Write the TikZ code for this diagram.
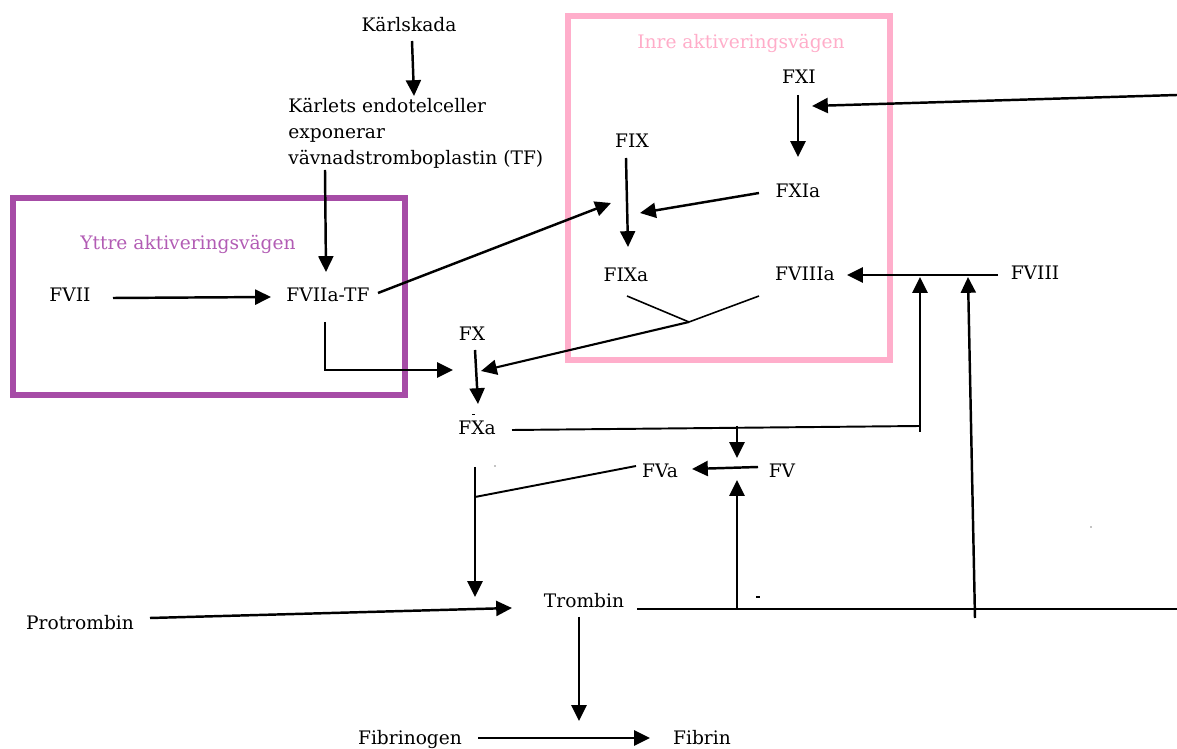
\documentclass[tikz,border=0pt]{standalone}
\usepackage{fontspec}
\setmainfont{DejaVu Serif}
\usetikzlibrary{arrows.meta}
\definecolor{boxpurple}{HTML}{A64CA6}
\definecolor{txtpurple}{HTML}{B25CB4}
\definecolor{boxpink}{HTML}{FFAECB}
\definecolor{txtpink}{HTML}{FFADC9}
\tikzset{
  lbl/.style={inner sep=0pt, anchor=base, font=\fontsize{10.6}{14.8}\selectfont},
  arr/.style={line width=1.4pt, -{Triangle[length=9pt,width=8.5pt]}},
  thin/.style={line width=0.9pt},
  mid/.style={line width=1.1pt},
  pathbox/.style={line width=3.4pt}
}
\begin{document}
\begin{tikzpicture}[x=0.02cm,y=-0.02cm]
\useasboundingbox (0,0) rectangle (1177,749);
% boxes
\draw[pathbox, draw=boxpurple] (13,198) rectangle (405,395);
\draw[pathbox, draw=boxpink] (568,16) rectangle (890,360);
% labels
\node[lbl, text=txtpurple] (yttre) at (188,250) {Yttre aktiveringsvägen};
\node[lbl, text=txtpink] (inre) at (741,49) {Inre aktiveringsvägen};
\node[lbl] (karlskada) at (409,32) {Kärlskada};
\node[lbl, anchor=base west, align=left] (karlets) at (288,165) {Kärlets endotelceller\\exponerar\\vävnadstromboplastin (TF)};
\node[lbl] (fvii) at (70,302) {FVII};
\node[lbl] (fviiatf) at (328,302) {FVIIa-TF};
\node[lbl] (fx) at (472,341) {FX};
\node[lbl] (fxi) at (799,84) {FXI};
\node[lbl] (fix) at (632,148) {FIX};
\node[lbl] (fxia) at (798,198) {FXIa};
\node[lbl] (fixa) at (626,282) {FIXa};
\node[lbl] (fviiia) at (805,281) {FVIIIa};
\node[lbl] (fviii) at (1035,280) {FVIII};
\node[lbl] (fxa) at (477,435) {FXa};
\node[lbl] (fva) at (660,478) {FVa};
\node[lbl] (fv) at (782,478) {FV};
\node[lbl] (trombin) at (584,608) {Trombin};
\node[lbl] (protrombin) at (80,630) {Protrombin};
\node[lbl] (fibrinogen) at (410,745) {Fibrinogen};
\node[lbl] (fibrin) at (702,745) {Fibrin};
% connector end points
\coordinate (k1) at (412,41);   \coordinate (k2) at (414,96);
\coordinate (tf1) at (325,170); \coordinate (tf2) at (326,272);
\coordinate (v1) at (113,298);  \coordinate (v2) at (271,297);
\coordinate (t1) at (378,293);  \coordinate (t2) at (611,203);
\coordinate (e1) at (325,322);  \coordinate (e2) at (325,370); \coordinate (e3) at (453,370);
\coordinate (x1) at (475,350);  \coordinate (x2) at (478,404);
\coordinate (ja) at (627,296);  \coordinate (j1) at (689,322); \coordinate (jb) at (759,296);
\coordinate (j2) at (481,371);
\coordinate (r1) at (1177,95);  \coordinate (r2) at (812,106);
\coordinate (xi1) at (798,95);  \coordinate (xi2) at (798,157);
\coordinate (ix1) at (626,158); \coordinate (ix2) at (628,247);
\coordinate (xia1) at (759,193); \coordinate (xia2) at (640,213);
\coordinate (viii1) at (998,275); \coordinate (viii2) at (847,275);
\coordinate (h1) at (512,430);  \coordinate (h2) at (920,426);
\coordinate (u1) at (920,432);  \coordinate (u2) at (920,277);
\coordinate (d1) at (737,426);  \coordinate (d2) at (737,458);
\coordinate (tr1) at (637,609); \coordinate (tr2) at (1177,609);
\coordinate (fu1) at (737,609); \coordinate (fu2) at (737,480);
\coordinate (lu1) at (975,618); \coordinate (lu2) at (968,277);
\coordinate (fv1) at (758,467); \coordinate (fv2) at (692,469);
\coordinate (fa1) at (636,466); \coordinate (fa2) at (475,497);
\coordinate (xa1) at (475,467); \coordinate (xa2) at (475,597);
\coordinate (p1) at (150,618);  \coordinate (p2) at (512,608);
\coordinate (b1) at (579,617);  \coordinate (b2) at (579,721);
\coordinate (g1) at (478,738);  \coordinate (g2) at (650,738);
% connectors
\draw[arr] (k1) -- (k2);
\draw[arr] (tf1) -- (tf2);
\draw[arr] (v1) -- (v2);
\draw[arr] (t1) -- (t2);
\draw[arr] (e1) -- (e2) -- (e3);
\draw[arr] (x1) -- (x2);
\draw[thin] (ja) -- (j1) -- (jb);
\draw[arr, line width=1.2pt] (j1) -- (j2);
\draw[arr] (r1) -- (r2);
\draw[arr] (xi1) -- (xi2);
\draw[arr] (ix1) -- (ix2);
\draw[arr] (xia1) -- (xia2);
\draw[arr] (viii1) -- (viii2);
\draw[mid] (h1) -- (h2);
\draw[arr] (u1) -- (u2);
\draw[arr] (d1) -- (d2);
\draw[mid] (tr1) -- (tr2);
\draw[arr] (fu1) -- (fu2);
\draw[arr] (lu1) -- (lu2);
\draw[arr] (fv1) -- (fv2);
\draw[mid] (fa1) -- (fa2);
\draw[arr] (xa1) -- (xa2);
\draw[arr] (p1) -- (p2);
\draw[arr] (b1) -- (b2);
\draw[arr] (g1) -- (g2);
% stray marks
\fill (472,414) rectangle (475,415.5);
\fill (495,466) circle (0.6);
\fill (756,596.5) rectangle (760,598);
\fill (1091,527) circle (0.6);
\end{tikzpicture}
\end{document}
